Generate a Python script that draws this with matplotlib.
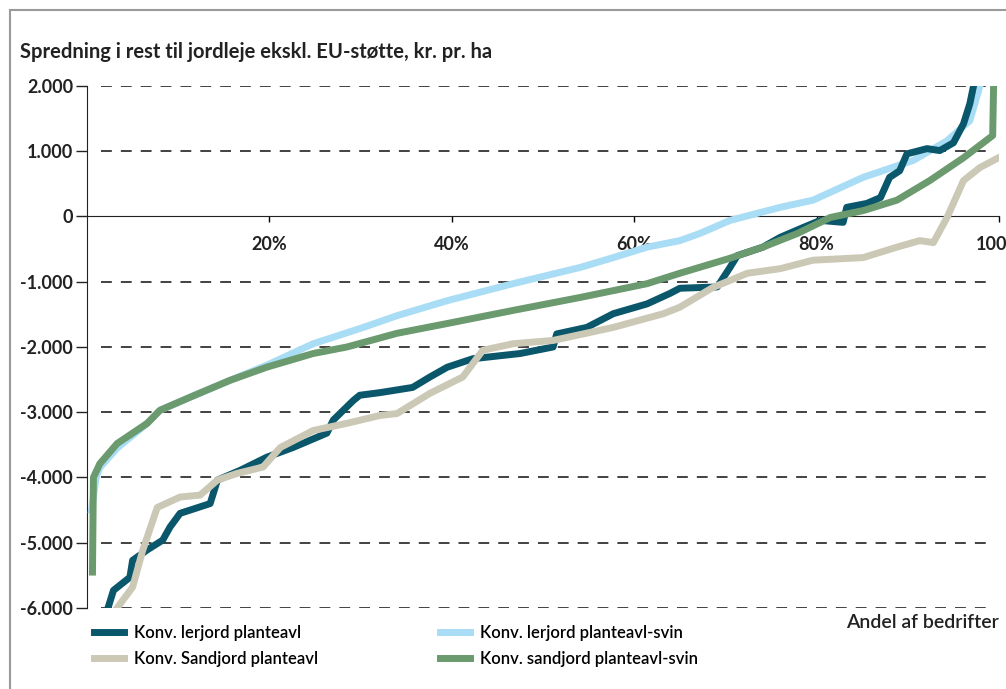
import matplotlib.pyplot as plt
from matplotlib.patches import Rectangle
from matplotlib.ticker import FuncFormatter

# Andel af bedrifter (%) og rest til jordleje (kr. pr. ha)
ler_x = [2.3, 2.9, 4.7, 5.0, 6.6, 8.3, 9.1, 10.2, 13.5, 14.3, 16.8, 19.7, 22.6, 26.3, 27.0,
         29.2, 29.9, 32.1, 35.7, 37.6, 39.5, 42.3, 47.5, 51.1, 51.5, 54.8, 57.7, 61.4, 63.9,
         65.0, 69.1, 70.5, 71.3, 74.1, 76.0, 78.5, 80.4, 82.9, 83.3, 85.5, 87.0, 88.0, 89.1,
         89.9, 92.1, 93.5, 95.0, 96.1, 96.8, 97.2]
ler_y = [-6000, -5730, -5530, -5270, -5110, -4960, -4760, -4550, -4400, -4040, -3890, -3690,
         -3540, -3320, -3120, -2820, -2740, -2700, -2620, -2460, -2310, -2180, -2100, -2000,
         -1800, -1700, -1490, -1340, -1180, -1100, -1080, -780, -600, -470, -320, -170, -60,
         -90, 140, 200, 290, 600, 700, 960, 1040, 1010, 1130, 1420, 1730, 2000]

ler_svin_x = [0.5, 1.0, 1.4, 3.3, 6.6, 8.0, 11.3, 15.7, 19.7, 24.8, 30.3, 34.0, 39.5, 46.7,
              54.1, 57.7, 61.4, 65.0, 67.2, 70.5, 76.0, 79.6, 85.1, 90.6, 94.3, 96.8, 97.9]
ler_svin_y = [-4500, -4000, -3850, -3550, -3170, -2970, -2770, -2510, -2280, -1950, -1700,
              -1520, -1290, -1030, -780, -630, -470, -370, -260, -60, 140, 250, 600, 860,
              1160, 1470, 2000]

sand_x = [3.3, 5.0, 6.1, 7.7, 10.2, 12.4, 14.3, 16.4, 19.3, 21.2, 24.8, 28.5, 32.1, 34.0,
          37.6, 41.2, 43.4, 46.7, 51.1, 57.7, 63.2, 65.0, 68.6, 72.4, 76.0, 79.6, 85.1,
          88.8, 91.3, 92.8, 94.3, 96.1, 97.9, 99.8]
sand_y = [-6000, -5680, -5120, -4460, -4300, -4270, -4040, -3940, -3840, -3540, -3280, -3170,
          -3050, -3020, -2710, -2460, -2050, -1950, -1900, -1700, -1490, -1390, -1090, -870,
          -800, -670, -630, -470, -370, -400, -15, 550, 750, 890]

sand_svin_x = [0.6, 0.7, 1.4, 3.3, 6.6, 8.0, 11.3, 15.7, 19.7, 24.8, 28.5, 34.0, 39.5, 46.7,
               54.1, 61.4, 65.0, 70.5, 74.1, 77.9, 81.5, 85.1, 88.8, 92.4, 96.1, 99.3, 99.4]
sand_svin_y = [-5450, -4000, -3790, -3480, -3170, -2970, -2770, -2510, -2310, -2100, -2000,
               -1790, -1640, -1440, -1240, -1030, -870, -640, -470, -260, -15, 90, 250, 550,
               900, 1240, 2000]

x_ticks = [20, 40, 60, 80, 100]
y_ticks = [-6000, -5000, -4000, -3000, -2000, -1000, 0, 1000, 2000]

plt.rcParams['font.family'] = ['Lato', 'DejaVu Sans']

fig = plt.figure(figsize=(10.06, 6.89), dpi=100)
ax = fig.add_axes([0.0865, 0.1176, 0.9066, 0.7576])

lw = 5
ax.plot(ler_svin_x, ler_svin_y, color='#a9dcf5', lw=lw, zorder=3, label='Konv. lerjord planteavl-svin')
ax.plot(ler_x, ler_y, color='#0a566b', lw=lw, zorder=4, label='Konv. lerjord planteavl')
ax.plot(sand_x, sand_y, color='#cbc9b6', lw=lw, zorder=5, label='Konv. Sandjord planteavl')
ax.plot(sand_svin_x, sand_svin_y, color='#6a9a6e', lw=lw, zorder=6, label='Konv. sandjord planteavl-svin')

ax.set_xlim(0, 100)
ax.set_ylim(-6000, 2000)

# stiplede hjælpelinjer
for v in y_ticks:
    if v != 0:
        ax.axhline(v, xmin=0.015, xmax=0.99, color='#333333', lw=1.3, dashes=(6, 5), zorder=1)

ax.spines['top'].set_visible(False)
ax.spines['right'].set_visible(False)
ax.spines['bottom'].set_position(('data', 0))
ax.spines['left'].set_color('#222222')
ax.spines['bottom'].set_color('#222222')

ax.set_yticks(y_ticks)
ax.yaxis.set_major_formatter(FuncFormatter(lambda v, p: f'{int(v):,}'.replace(',', '.')))
ax.tick_params(axis='y', direction='out', length=8, width=1, pad=2, labelsize=13, colors='#222222')
for t in ax.get_yticklabels():
    t.set_fontweight('bold')

ax.set_xticks(x_ticks)
ax.set_xticklabels([f'{v}%' for v in x_ticks], fontsize=13, fontweight='bold', color='#222222')
ax.tick_params(axis='x', direction='out', length=4, width=1, pad=10)

fig.text(0.02, 0.925, 'Spredning i rest til jordleje ekskl. EU-støtte, kr. pr. ha',
         fontsize=14.5, fontweight='bold', color='#222222', va='center')
fig.text(0.993, 0.0885, 'Andel af bedrifter', fontsize=14, fontweight='semibold',
         color='#222222', ha='right')

h, l = ax.get_legend_handles_labels()
order = [1, 2, 0, 3]
fig.legend([h[i] for i in order], [l[i] for i in order], ncol=2, frameon=False,
           loc='upper left', bbox_to_anchor=(0.079, 0.115),
           prop={'weight': 'semibold', 'size': 12},
           handlelength=1.8, columnspacing=7.3, labelspacing=0.62, handletextpad=0.6)

fig.patches.append(Rectangle((0.01, -0.1), 1.2, 1.0855, transform=fig.transFigure,
                             fill=False, edgecolor='#9a9a9a', lw=1.5))

plt.savefig('out.png', dpi=100)
